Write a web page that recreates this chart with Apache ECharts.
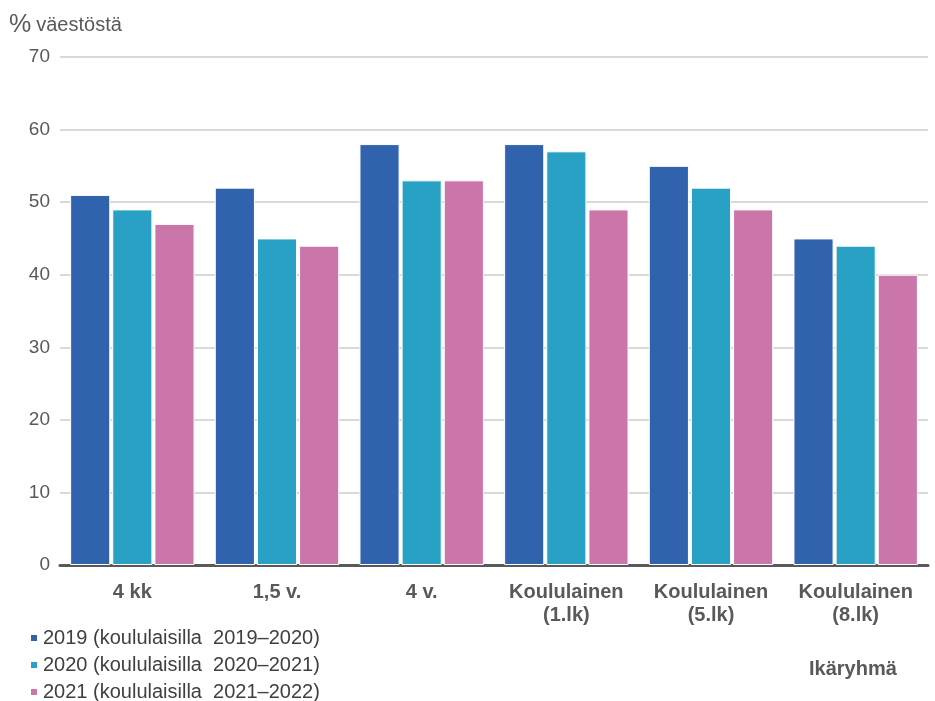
<!DOCTYPE html>
<html>
<head>
<meta charset="utf-8">
<script src="https://cdn.jsdelivr.net/npm/echarts@6/dist/echarts.min.js"></script>
<style>
  html, body { margin: 0; padding: 0; background: #fff; }
  #chart { width: 935px; height: 701px; }
</style>
</head>
<body>
<div id="chart"></div>
<script>
// Age groups on the x axis
const categories = ['4 kk', '1,5 v.', '4 v.', 'Koululainen\n(1.lk)', 'Koululainen\n(5.lk)', 'Koululainen\n(8.lk)'];
// Share of population (%) per year
const names = ['2019 (koululaisilla  2019–2020)', '2020 (koululaisilla  2020–2021)', '2021 (koululaisilla  2021–2022)'];
const values2019 = [51, 52, 58, 58, 55, 45];
const values2020 = [49, 45, 53, 57, 52, 44];
const values2021 = [47, 44, 53, 49, 49, 40];
const yTicks = [0, 10, 20, 30, 40, 50, 60, 70];
const colors = ['#3062AE', '#28A1C4', '#CB76AA'];

const font = '"Liberation Sans", Arial, sans-serif';
const chart = echarts.init(document.getElementById('chart'));

const seriesData = [values2019, values2020, values2021];

chart.setOption({
  animation: false,
  textStyle: { fontFamily: font },
  title: {
    text: '{p|%} {t|väestöstä}',
    left: 9,
    top: 13,
    padding: 0,
    textStyle: {
      rich: {
        p: { fontSize: 25, color: '#595959', fontFamily: font, fontWeight: 'normal' },
        t: { fontSize: 20, color: '#595959', fontFamily: font, fontWeight: 'normal' }
      }
    }
  },
  legend: {
    orient: 'vertical',
    left: 29,
    top: 628,
    height: 80,
    padding: 0,
    itemGap: 7,
    itemWidth: 8,
    itemHeight: 8,
    icon: 'rect',
    textStyle: { fontSize: 20, color: '#404040', fontFamily: font },
    data: names
  },
  graphic: [{
    type: 'text',
    left: 809,
    top: 659,
    style: { text: 'Ikäryhmä', font: 'bold 20px ' + font, fill: '#595959' }
  }],
  grid: { left: 60, right: 7, top: 57, bottom: 136, containLabel: false },
  xAxis: {
    type: 'category',
    data: categories,
    axisLine: { lineStyle: { color: '#595959', width: 3 } },
    axisTick: { show: false },
    axisLabel: {
      interval: 0,
      fontSize: 20,
      fontWeight: 'bold',
      color: '#595959',
      lineHeight: 23,
      margin: 16,
      fontFamily: font
    }
  },
  yAxis: {
    type: 'value',
    min: yTicks[0],
    max: yTicks[yTicks.length - 1],
    interval: 10,
    axisLine: { show: false },
    axisTick: { show: false },
    axisLabel: { fontSize: 19, color: '#595959', margin: 10, fontFamily: font },
    splitLine: { lineStyle: { color: '#D9D9D9', width: 2 } }
  },
  series: names.map((n, i) => ({
    name: n,
    type: 'bar',
    data: seriesData[i],
    barGap: '5%',
    barCategoryGap: '14%',
    itemStyle: { color: colors[i], borderColor: '#ffffff', borderWidth: 1 }
  }))
});
</script>
</body>
</html>
